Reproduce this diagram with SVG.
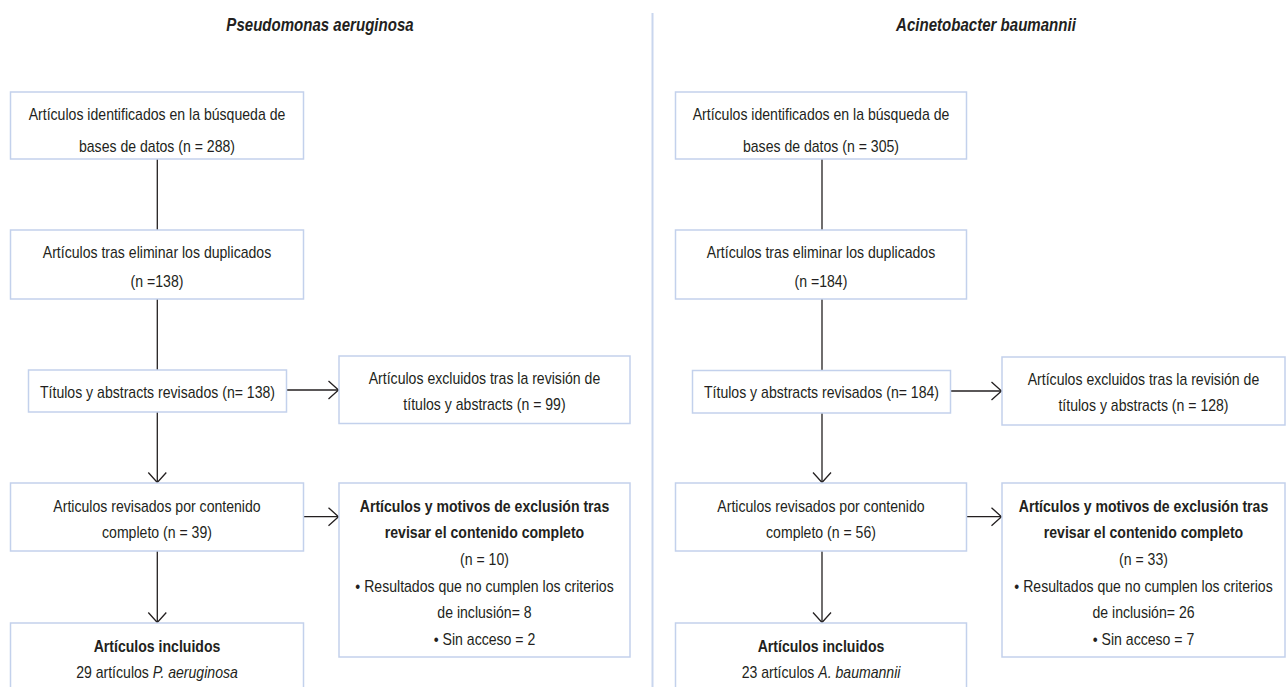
<svg xmlns="http://www.w3.org/2000/svg" width="1286" height="687" viewBox="0 0 1286 687">
<style>
  .box { fill: #ffffff; stroke: #c3d1ec; stroke-width: 1.5; }
  .t { font-family: "Liberation Sans", Arial, sans-serif; font-size: 16px; fill: #231f20; text-anchor: middle; transform-box: fill-box; transform-origin: center; transform: scaleX(0.88); }
  .b { font-weight: bold; }
  .title { font-family: "Liberation Sans", Arial, sans-serif; font-size: 17.5px; font-weight: bold; font-style: italic; fill: #231f20; text-anchor: middle; transform-box: fill-box; transform-origin: center; transform: scaleX(0.86); }
  .conn { stroke: #231f20; stroke-width: 1.3; fill: none; }
  .arr { marker-end: url(#ah); }
  .div { stroke: #c9d6ee; stroke-width: 2; }
</style>
<defs>
  <marker id="ah" markerUnits="userSpaceOnUse" markerWidth="14" markerHeight="22" refX="11" refY="10" orient="auto">
    <path d="M1,1 L11,10 L1,19" fill="none" stroke="#231f20" stroke-width="1.3"/>
  </marker>
</defs>
<rect width="1286" height="687" fill="#ffffff"/>
<line class="div" x1="652.5" y1="13" x2="652.5" y2="687"/>
<text class="title" x="320" y="31">Pseudomonas aeruginosa</text>
<text class="title" x="986" y="31">Acinetobacter baumannii</text>

<g id="connectors">
  <line class="conn" x1="157.3" y1="159" x2="157.3" y2="230"/>
  <line class="conn" x1="157.3" y1="299" x2="157.3" y2="370"/>
  <line class="conn arr" x1="286.5" y1="390" x2="338.5" y2="390"/>
  <line class="conn arr" x1="157.3" y1="412" x2="157.3" y2="482.5"/>
  <line class="conn arr" x1="303.5" y1="516.7" x2="338.5" y2="516.7"/>
  <line class="conn arr" x1="157.3" y1="551" x2="157.3" y2="622.5"/>
  <line class="conn" x1="822" y1="159" x2="822" y2="230"/>
  <line class="conn" x1="822" y1="299" x2="822" y2="370.5"/>
  <line class="conn arr" x1="950.5" y1="391" x2="1001.5" y2="391"/>
  <line class="conn arr" x1="822" y1="413" x2="822" y2="482.5"/>
  <line class="conn arr" x1="966.5" y1="516.7" x2="1001.5" y2="516.7"/>
  <line class="conn arr" x1="822" y1="551" x2="822" y2="622.5"/>
</g>

<g id="pa-identificados">
  <rect class="box" x="10.5" y="92" width="293" height="67"/>
  <text class="t" x="157" y="120.5">Artículos identificados en la búsqueda de</text>
  <text class="t" x="157" y="152">bases de datos (n = 288)</text>
</g>
<g id="pa-duplicados">
  <rect class="box" x="10.5" y="230" width="293" height="69"/>
  <text class="t" x="157" y="258.5">Artículos tras eliminar los duplicados</text>
  <text class="t" x="157" y="287">(n =138)</text>
</g>
<g id="pa-titulos">
  <rect class="box" x="28.5" y="370" width="258" height="42"/>
  <text class="t" x="157.5" y="398">Títulos y abstracts revisados (n= 138)</text>
</g>
<g id="pa-excluidos">
  <rect class="box" x="339" y="356" width="291" height="67.5"/>
  <text class="t" x="484.5" y="384.5">Artículos excluidos tras la revisión de</text>
  <text class="t" x="484.5" y="410.5">títulos y abstracts (n = 99)</text>
</g>
<g id="pa-completo">
  <rect class="box" x="10.5" y="483" width="293" height="68"/>
  <text class="t" x="157" y="512">Articulos revisados por contenido</text>
  <text class="t" x="157" y="538.5">completo (n = 39)</text>
</g>
<g id="pa-motivos">
  <rect class="box" x="339" y="483" width="291" height="174"/>
  <text class="t b" x="484.5" y="512">Artículos y motivos de exclusión tras</text>
  <text class="t b" x="484.5" y="538.5">revisar el contenido completo</text>
  <text class="t" x="484.5" y="565">(n = 10)</text>
  <text class="t" x="484.5" y="592">• Resultados que no cumplen los criterios</text>
  <text class="t" x="484.5" y="618.5">de inclusión= 8</text>
  <text class="t" x="484.5" y="645">• Sin acceso = 2</text>
</g>
<g id="pa-incluidos">
  <rect class="box" x="10.5" y="623" width="293" height="90"/>
  <text class="t b" x="157" y="652">Artículos incluidos</text>
  <text class="t" x="157" y="678">29 artículos <tspan font-style="italic">P. aeruginosa</tspan></text>
</g>

<g id="ab-identificados">
  <rect class="box" x="675.5" y="92" width="291" height="67"/>
  <text class="t" x="821" y="120.5">Artículos identificados en la búsqueda de</text>
  <text class="t" x="821" y="152">bases de datos (n = 305)</text>
</g>
<g id="ab-duplicados">
  <rect class="box" x="675.5" y="230" width="291" height="69"/>
  <text class="t" x="821" y="258.5">Artículos tras eliminar los duplicados</text>
  <text class="t" x="821" y="287">(n =184)</text>
</g>
<g id="ab-titulos">
  <rect class="box" x="692.5" y="370.5" width="258" height="42.5"/>
  <text class="t" x="821.5" y="398.5">Títulos y abstracts revisados (n= 184)</text>
</g>
<g id="ab-excluidos">
  <rect class="box" x="1002" y="357" width="283" height="68"/>
  <text class="t" x="1143.5" y="385">Artículos excluidos tras la revisión de</text>
  <text class="t" x="1143.5" y="411.5">títulos y abstracts (n = 128)</text>
</g>
<g id="ab-completo">
  <rect class="box" x="675.5" y="483" width="291" height="68"/>
  <text class="t" x="821" y="512">Articulos revisados por contenido</text>
  <text class="t" x="821" y="538.5">completo (n = 56)</text>
</g>
<g id="ab-motivos">
  <rect class="box" x="1002" y="483" width="283" height="174"/>
  <text class="t b" x="1143.5" y="512">Artículos y motivos de exclusión tras</text>
  <text class="t b" x="1143.5" y="538.5">revisar el contenido completo</text>
  <text class="t" x="1143.5" y="565">(n = 33)</text>
  <text class="t" x="1143.5" y="592">• Resultados que no cumplen los criterios</text>
  <text class="t" x="1143.5" y="618.5">de inclusión= 26</text>
  <text class="t" x="1143.5" y="645">• Sin acceso = 7</text>
</g>
<g id="ab-incluidos">
  <rect class="box" x="675.5" y="623" width="291" height="90"/>
  <text class="t b" x="821" y="652">Artículos incluidos</text>
  <text class="t" x="821" y="678">23 artículos <tspan font-style="italic">A. baumannii</tspan></text>
</g>
</svg>
